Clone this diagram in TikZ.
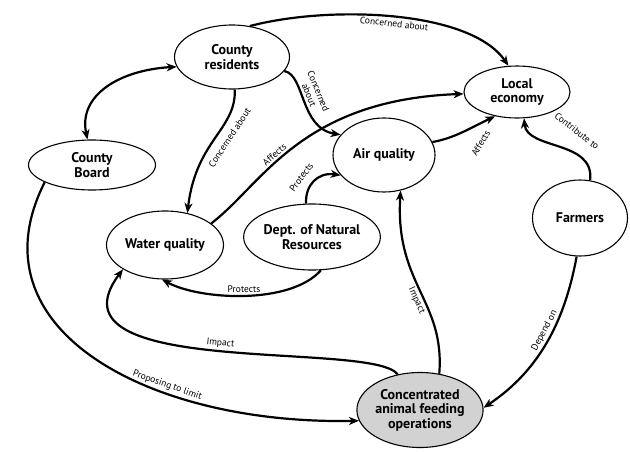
\documentclass[tikz,border=0pt]{standalone}
\usepackage{fontspec}
\setmainfont{PT Sans}
\usepackage{tikz}
\usetikzlibrary{arrows.meta, shapes.geometric, calc}

\begin{document}
\begin{tikzpicture}[
		x=1pt, y=1pt,
		blob/.style={ellipse, draw, line width=1.1pt, align=center, inner sep=0pt, font=\fontsize{14}{14.5}\selectfont\bfseries},
		lbl/.style={font=\fontsize{9.5}{10}\selectfont, inner sep=2pt},
		link/.style={line width=2.2pt, -{Stealth[length=10pt, width=8pt, inset=3pt]}},
		]

		\useasboundingbox (0,0) rectangle (630,-453);

		% --- nodes ---
		\node[blob, minimum width=115pt, minimum height=64pt] (CR) at (232,-57) {County\\residents};
		\node[blob, minimum width=106pt, minimum height=52pt] (LE) at (517,-92) {Local\\economy};
		\node[blob, minimum width=127pt, minimum height=50pt] (CB) at (92,-165) {County\\Board};
		\node[blob, minimum width=102pt, minimum height=74pt] (AQ) at (384,-155) {Air quality};
		\node[blob, minimum width=117pt, minimum height=68pt] (WQ) at (165,-245) {Water quality};
		\node[blob, minimum width=135pt, minimum height=66pt] (DNR) at (312,-237) {Dept. of Natural\\Resources};
		\node[blob, minimum width=95pt, minimum height=76pt] (FA) at (580,-218) {Farmers};
		\node[blob, fill=gray!35, minimum width=126pt, minimum height=75pt] (CAFO) at (420,-410) {Concentrated\\animal feeding\\operations};

		% --- connectors ---
		\draw[link, {Stealth[length=10pt, width=8pt, inset=3pt]}-{Stealth[length=10pt, width=8pt, inset=3pt]}]
			(CB.100) .. controls (78,-95) and (120,-70) .. (CR.190);
		\draw[link] (CR.60) .. controls (330,-5) and (470,-10) .. (LE.108)
			node[lbl, pos=.5, sloped, below] {Concerned about};
		\draw[link] (CR.275) .. controls (236,-130) and (196,-140) .. (WQ.55)
			node[lbl, pos=.42, sloped, below=5pt] {Concerned about};
		\draw[link] (CR.-15) .. controls (305,-75) and (300,-128) .. (AQ.155)
			node[lbl, pos=.45, sloped, above, align=center] {Concerned\\about};
		\draw[link] (WQ.25) .. controls (262,-185) and (300,-100) .. (LE.182)
			node[lbl, pos=.42, sloped, above] {Affects};
		\draw[link] (AQ.15) .. controls (455,-138) and (470,-128) .. (LE.228)
			node[lbl, pos=.6, xshift=12pt, yshift=-14pt, rotate=60] {Affects};
		\draw[link] (DNR.100) .. controls (305,-185) and (318,-172) .. (AQ.205)
			node[lbl, pos=.4, sloped, above=6pt] {Protects};
		\draw[link] (DNR.285) .. controls (290,-305) and (200,-300) .. (WQ.265)
			node[lbl, pos=.5, sloped, above] {Protects};
		\draw[link] (CAFO.122) .. controls (372,-340) and (40,-380) .. (WQ.210)
			node[lbl, pos=.5, sloped, above] {Impact};
		\draw[link] (CAFO.62) .. controls (445,-300) and (395,-285) .. (AQ.295)
			node[lbl, pos=.45, sloped, below] {Impact};
		\draw[link] (CB.200) .. controls (-30,-330) and (150,-425) .. (CAFO.190)
			node[lbl, pos=.66, sloped, above] {Proposing to limit};
		\draw[link] (FA.265) .. controls (565,-320) and (540,-370) .. (CAFO.2)
			node[lbl, pos=.45, sloped, above] {Depend on};
		\draw[link] (FA.75) .. controls (595,-140) and (527,-150) .. (LE.285)
			node[lbl, pos=.5, xshift=17pt, yshift=15pt, rotate=-38] {Contribute to};

	\end{tikzpicture}
\end{document}
